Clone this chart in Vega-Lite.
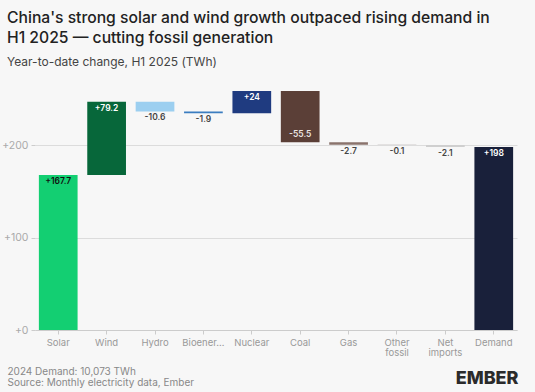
{
  "$schema": "https://vega.github.io/schema/vega-lite/v6.json",
  "autosize": "none",
  "width": 482,
  "height": 240,
  "padding": {"left": 35, "top": 90, "right": 18, "bottom": 62},
  "background": "#f7f7f7",
  "config": {
    "font": "Inter",
    "view": {"stroke": null}
  },
  "title": {
    "text": ["China's strong solar and wind growth outpaced rising demand in", "H1 2025 — cutting fossil generation"],
    "subtitle": "Year-to-date change, H1 2025 (TWh)",
    "anchor": "start",
    "frame": "group",
    "dx": -28,
    "offset": 21,
    "fontSize": 15.7,
    "fontWeight": 500,
    "lineHeight": 20,
    "color": "#222222",
    "subtitleFontSize": 12,
    "subtitleColor": "#444444",
    "subtitlePadding": 10
  },
  "data": {
    "values": [
      {"category": "Solar", "value": 167.7, "start": 0, "end": 167.7, "label": "+167.7"},
      {"category": "Wind", "value": 79.2, "start": 167.7, "end": 246.9, "label": "+79.2"},
      {"category": "Hydro", "value": -10.6, "start": 246.9, "end": 236.3, "label": "-10.6"},
      {"category": "Bioenergy", "value": -1.9, "start": 236.3, "end": 234.4, "label": "-1.9"},
      {"category": "Nuclear", "value": 24, "start": 234.4, "end": 258.4, "label": "+24"},
      {"category": "Coal", "value": -55.5, "start": 258.4, "end": 202.9, "label": "-55.5"},
      {"category": "Gas", "value": -2.7, "start": 202.9, "end": 200.2, "label": "-2.7"},
      {"category": "Other fossil", "value": -0.1, "start": 200.2, "end": 200.1, "label": "-0.1"},
      {"category": "Net imports", "value": -2.1, "start": 200.1, "end": 198.0, "label": "-2.1"},
      {"category": "Demand", "value": 198, "start": 0, "end": 198, "label": "+198"}
    ]
  },
  "encoding": {
    "x": {
      "field": "category",
      "type": "nominal",
      "sort": null,
      "scale": {"paddingInner": 0.2, "paddingOuter": 0.08},
      "axis": {
        "title": ["2024 Demand: 10,073 TWh", "Source: Monthly electricity data, Ember"],
        "titleAnchor": "start",
        "titleAlign": "left",
        "titleBaseline": "top",
        "titleX": -28,
        "titleY": 36,
        "titleFontSize": 10,
        "titleFontWeight": "normal",
        "titleColor": "#888888",
        "titleLineHeight": 11.5,
        "labelAngle": 0,
        "labelColor": "#999999",
        "labelFontSize": 9.5,
        "labelLineHeight": 10.5,
        "labelPadding": 3,
        "labelExpr": "datum.label == 'Bioenergy' ? 'Bioener…' : split(datum.label, ' ')",
        "domainColor": "#cccccc",
        "tickColor": "#cccccc",
        "tickSize": 4
      }
    },
    "y": {
      "field": "start",
      "type": "quantitative",
      "scale": {"domain": [0, 259.5], "nice": false},
      "axis": {
        "values": [0, 100, 200],
        "labelExpr": "'+' + datum.label",
        "labelColor": "#aaaaaa",
        "labelFontSize": 10.5,
        "labelPadding": 3,
        "tickColor": "#cccccc",
        "tickSize": 4,
        "domain": false,
        "gridColor": "#dcdcdc",
        "title": "EMBER",
        "titleAngle": 0,
        "titleAlign": "right",
        "titleBaseline": "alphabetic",
        "titleX": 483,
        "titleY": 293,
        "titleFontSize": 18,
        "titleFontWeight": 800,
        "titleColor": "#2b2b2b"
      }
    }
  },
  "layer": [
    {
      "mark": {"type": "bar"},
      "encoding": {
        "y2": {"field": "end"},
        "color": {
          "field": "category",
          "type": "nominal",
          "legend": null,
          "scale": {
            "domain": ["Solar", "Wind", "Hydro", "Bioenergy", "Nuclear", "Coal", "Gas", "Other fossil", "Net imports", "Demand"],
            "range": ["#13cf72", "#07673a", "#9ccff0", "#3b7dc0", "#1f3b80", "#5b3f37", "#8a736c", "#a8a0a0", "#cfcfcf", "#19203a"]
          }
        }
      }
    },
    {
      "transform": [{"filter": "datum.category != 'Coal'"}],
      "mark": {"type": "text", "fontSize": 8.5, "fontWeight": 600, "baseline": "alphabetic", "align": "center", "dy": 9},
      "encoding": {
        "y": {"field": "end", "type": "quantitative"},
        "text": {"field": "label"},
        "color": {
          "condition": [
            {"test": "datum.category == 'Solar'", "value": "#111111"},
            {"test": "datum.value > 0", "value": "#ffffff"}
          ],
          "value": "#444444"
        }
      }
    },
    {
      "transform": [{"filter": "datum.category == 'Coal'"}],
      "mark": {"type": "text", "fontSize": 8.5, "fontWeight": 600, "baseline": "alphabetic", "align": "center", "dy": -5},
      "encoding": {
        "y": {"field": "end", "type": "quantitative"},
        "text": {"field": "label"},
        "color": {"value": "#ece6e3"}
      }
    }
  ]
}
